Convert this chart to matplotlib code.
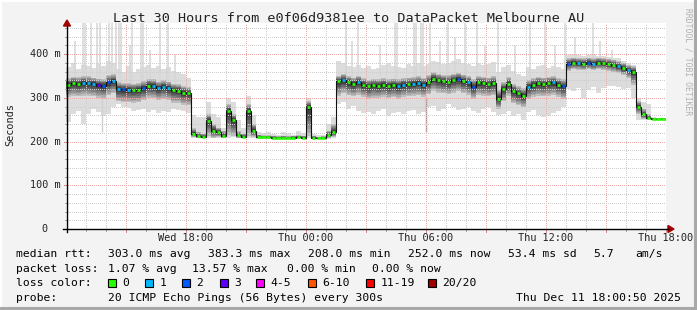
import matplotlib
matplotlib.use("Agg")
import matplotlib.pyplot as plt
import numpy as np
from matplotlib.patches import Rectangle, Polygon
from matplotlib.lines import Line2D

W, H, DPI = 697, 310, 100
MONO = "DejaVu Sans Mono"

# ---------------- data (15-minute bins, hours since Wed 12:00) ----------------
start_hour = 0.0139
step_hours = 0.25

median = [330, 333, 331, 334, 333, 332, 329, 327, 335, 338,
          320, 319, 318, 317, 318, 322, 328, 327, 322, 325,
          322, 317, 316, 312, 311, 218, 212, 211, 248, 225,
          222, 212, 270, 250, 214, 211, 270, 225, 210, 210,
          210, 209, 209, 209, 209, 209, 210, 209, 280, 209,
          208, 208, 214, 222, 338, 340, 335, 332, 336, 330,
          326, 329, 328, 330, 327, 329, 327, 330, 331, 332,
          334, 330, 336, 344, 340, 338, 336, 340, 343, 338,
          335, 325, 335, 333, 331, 334, 298, 320, 332, 315,
          310, 305, 325, 330, 333, 331, 333, 335, 330, 326,
          378, 380, 379, 378, 380, 378, 380, 379, 377, 375,
          372, 368, 363, 360, 280, 262, 254, 252, 252, 252]

smoke_hi = [345, 348, 347, 350, 349, 346, 344, 343, 352, 354,
            336, 334, 333, 332, 334, 338, 343, 342, 337, 340,
            337, 332, 331, 327, 324, 230, 222, 218, 262, 240,
            232, 225, 285, 262, 224, 218, 285, 240, 216, 214,
            214, 213, 212, 213, 212, 213, 214, 213, 292, 213,
            211, 212, 225, 240, 350, 355, 350, 346, 350, 345,
            341, 343, 342, 345, 342, 344, 342, 345, 346, 347,
            349, 346, 351, 358, 355, 352, 351, 355, 357, 353,
            350, 342, 349, 348, 346, 349, 318, 336, 347, 332,
            326, 322, 340, 345, 348, 346, 348, 349, 345, 342,
            390, 392, 391, 390, 392, 390, 392, 391, 389, 387,
            384, 380, 375, 372, 292, 275, 262, 254, 253, 253]

smoke_lo = [302, 305, 303, 305, 304, 303, 300, 298, 306, 310,
            292, 290, 290, 289, 290, 294, 300, 299, 294, 297,
            294, 289, 288, 284, 283, 210, 208, 208, 212, 209,
            210, 208, 215, 212, 208, 208, 212, 210, 207, 207,
            207, 207, 207, 206, 207, 206, 207, 207, 212, 206,
            206, 206, 208, 210, 305, 310, 306, 303, 307, 302,
            298, 300, 300, 302, 299, 301, 298, 302, 303, 304,
            306, 302, 308, 316, 312, 310, 308, 312, 315, 310,
            307, 298, 307, 305, 303, 306, 275, 292, 304, 288,
            283, 278, 297, 302, 305, 303, 305, 307, 302, 298,
            362, 365, 364, 363, 365, 363, 365, 364, 362, 360,
            357, 352, 346, 330, 262, 252, 250, 251, 251, 251]

rtt_min = [245, 262, 270, 240, 262, 275, 268, 258, 262, 280,
           285, 278, 276, 270, 272, 275, 268, 272, 265, 270,
           268, 275, 272, 270, 265, 207, 207, 207, 207, 207,
           207, 207, 208, 210, 207, 207, 207, 208, 206, 206,
           206, 206, 206, 206, 206, 206, 206, 206, 207, 206,
           205, 205, 206, 207, 285, 290, 275, 282, 270, 265,
           268, 262, 270, 275, 258, 265, 268, 262, 270, 272,
           262, 268, 280, 282, 270, 275, 285, 278, 272, 275,
           278, 270, 265, 275, 280, 268, 260, 262, 270, 258,
           262, 250, 268, 272, 260, 255, 258, 265, 270, 280,
           320, 315, 322, 300, 318, 325, 312, 322, 326, 328,
           325, 320, 322, 300, 250, 250, 250, 251, 251, 251]

rtt_max = [370, 380, 365, 375, 372, 368, 378, 372, 385, 380,
           365, 360, 372, 358, 365, 370, 375, 368, 372, 365,
           370, 362, 360, 355, 345, 260, 255, 255, 290, 262,
           255, 232, 300, 290, 250, 230, 305, 260, 222, 220,
           222, 218, 216, 222, 220, 215, 225, 220, 300, 218,
           215, 215, 240, 255, 385, 380, 372, 370, 375, 368,
           372, 365, 368, 375, 380, 372, 370, 368, 378, 372,
           380, 372, 378, 385, 382, 378, 380, 385, 388, 380,
           378, 372, 380, 375, 378, 382, 360, 370, 375, 362,
           355, 350, 370, 365, 372, 375, 368, 372, 370, 365,
           398, 400, 397, 395, 398, 400, 396, 395, 394, 392,
           390, 385, 380, 375, 300, 290, 285, 255, 253, 253]

loss = [0, 0, 0, 1, 1, 1, 3, 2, 2, 1,
        1, 2, 1, 0, 0, 2, 0, 1, 1, 1,
        1, 0, 0, 0, 0, 0, 0, 0, 0, 0,
        0, 0, 0, 0, 0, 0, 0, 0, 0, 0,
        0, 0, 0, 0, 0, 0, 0, 0, 0, 0,
        0, 0, 0, 0, 0, 1, 0, 0, 1, 0,
        0, 0, 0, 0, 0, 0, 1, 1, 0, 1,
        1, 1, 0, 0, 0, 0, 0, 0, 2, 0,
        1, 2, 0, 0, 0, 0, 0, 0, 0, 0,
        0, 0, 1, 0, 0, 0, 0, 1, 0, 2,
        2, 0, 1, 0, 2, 1, 0, 0, 0, 0,
        1, 0, 1, 0, 0, 0, 0, 0, 0, 0]

spike_hours = [0.85, 0.95, 1.25, 1.55, 1.70, 2.15, 2.30, 2.50, 2.65, 2.75,
               3.30, 3.75, 3.85, 4.70, 5.10, 14.00, 14.60, 16.45, 16.55, 17.40,
               17.50, 17.75, 17.85, 18.20, 19.10, 19.95, 20.55, 21.60, 23.20, 23.95,
               24.95, 26.35,
               0.45, 3.20, 4.20, 5.45, 14.30, 15.70, 18.70, 19.45, 20.95, 22.45,
               24.45, 25.45, 26.70, 27.30]
spike_tops = [480, 480, 480, 480, 480, 480, 480, 480, 480, 480,
              480, 480, 480, 480, 480, 480, 480, 480, 480, 480,
              480, 480, 480, 480, 480, 480, 480, 480, 480, 480,
              480, 480,
              430, 420, 410, 400, 430, 420, 430, 440, 420, 420,
              420, 440, 430, 410]

dip_hours = [1.80, 18.00]
dip_bottoms = [222, 222]

y_ticks = [0, 100, 200, 300, 400]
y_tick_labels = ["0", "100 m", "200 m", "300 m", "400 m"]
x_ticks = [6, 12, 18, 24, 30]
x_tick_labels = ["Wed 18:00", "Thu 00:00", "Thu 06:00", "Thu 12:00", "Thu 18:00"]

loss_labels = ["0", "1", "2", "3", "4-5", "6-10", "11-19", "20/20"]
loss_colors = ["#26ff00", "#00b8ff", "#0059ff", "#5e00ff",
               "#ff00ff", "#ff5500", "#ff0000", "#a10000"]

title = "Last 30 Hours from e0f06d9381ee to DataPacket Melbourne AU"
rtt_items = ["303.0 ms avg", "383.3 ms max", "208.0 ms min", "252.0 ms now",
             "53.4 ms sd", "5.7", "am/s"]
loss_items = ["1.07 % avg", "13.57 % max", "0.00 % min", "0.00 % now"]
probe_text = "20 ICMP Echo Pings (56 Bytes) every 300s"
stamp_text = "Thu Dec 11 18:00:50 2025"

# ---------------- figure ----------------
fig = plt.figure(figsize=(W / DPI, H / DPI), dpi=DPI)
fig.patch.set_facecolor("#F3F3F3")


def fx(x):
    return x / W


def fy(y):
    return 1 - y / H


# frame shading
fig.add_artist(Line2D([fx(0.5), fx(0.5)], [fy(0), fy(H)], color="#FFFFFF", lw=1.4))
fig.add_artist(Line2D([fx(0), fx(W)], [fy(0.5), fy(0.5)], color="#FFFFFF", lw=1.4))
fig.add_artist(Line2D([fx(W - 2), fx(W - 2)], [fy(1), fy(H)], color="#A8A8A8", lw=2.2))
fig.add_artist(Line2D([fx(1), fx(W)], [fy(H - 2), fy(H - 2)], color="#A8A8A8", lw=2.2))

PX0, PX1, PY0, PY1 = 66, 666, 229, 23
ax = fig.add_axes([fx(PX0), fy(PY0), (PX1 - PX0) / W, (PY0 - PY1) / H])
ymax = (PY0 - PY1) / 0.4375
ax.set_xlim(start_hour, start_hour + 30)
ax.set_ylim(0, ymax)
ax.set_facecolor("white")
for s in ax.spines.values():
    s.set_visible(False)
ax.set_xticks([])
ax.set_yticks([])

n = len(median)
edges = start_hour + step_hours * np.arange(n + 1)
med = np.array(median, float)


def stepfill(lo, hi, color, z):
    lo = list(lo) + [lo[-1]]
    hi = list(hi) + [hi[-1]]
    ax.fill_between(edges, lo, hi, step="post", color=color, lw=0, zorder=z)


# light smoke (min..max)
stepfill(rtt_min, rtt_max, "#DCDCDC", 1)

# spikes and dips
bin_idx = [min(n - 1, int((h - start_hour) / step_hours)) for h in spike_hours]
ax.vlines(spike_hours, [smoke_hi[i] for i in bin_idx], spike_tops,
          colors="#D6D6D6", lw=1.1, zorder=1)
dbin = [min(n - 1, int((h - start_hour) / step_hours)) for h in dip_hours]
ax.vlines(dip_hours, dip_bottoms, [smoke_lo[i] for i in dbin],
          colors=["#D0D0D0", "#9A9A9A"], lw=1.0, zorder=1)

# dark smoke gradient
lo = np.array(smoke_lo, float)
hi = np.array(smoke_hi, float)
K = 8
shades = np.linspace(0.74, 0.18, K)
for k in range(K):
    f = k / K
    stepfill(lo + (med - lo) * f, hi - (hi - med) * f, str(shades[k]), 1.5)

# grid (1px dots, 2px gaps)
dot = (0, (1, 2))
for h in range(1, 31):
    major = (h % 3 == 0)
    ax.axvline(h, color="#EAAAAA" if major else "#CDCDCD",
               lw=0.72, ls=dot, zorder=2, antialiased=False)
for v in range(20, int(ymax) + 1, 20):
    major = (v % 100 == 0)
    ax.axhline(v, color="#EAAAAA" if major else "#CDCDCD",
               lw=0.72, ls=dot, zorder=2, antialiased=False)

# median line and loss colouring
ax.stairs(med, edges, color="#111111", lw=0.8, baseline=None, zorder=3)


def loss_color(c):
    if c <= 3:
        return loss_colors[c]
    if c <= 5:
        return loss_colors[4]
    if c <= 10:
        return loss_colors[5]
    if c <= 19:
        return loss_colors[6]
    return loss_colors[7]


seg_x0, seg_x1 = [], []
for i in range(n):
    a, b = edges[i], edges[i + 1]
    if i > 0 and median[i] != median[i - 1]:
        a += 0.05
    if i < n - 1 and median[i] != median[i + 1]:
        b -= 0.05
    seg_x0.append(a)
    seg_x1.append(b)
ax.hlines(med, seg_x0, seg_x1, colors=[loss_color(c) for c in loss], lw=1.9, zorder=4)

# axes lines with arrows and ticks
for h in range(1, 31):
    xp = PX0 + (h - start_hour) * 20
    ln = 3 if h % 3 == 0 else 2
    fig.add_artist(Line2D([fx(xp), fx(xp)], [fy(229), fy(229 + ln)],
                          color="#E08A8A" if h % 3 == 0 else "#AAAAAA", lw=0.72))
for v in range(20, 461, 20):
    yp = PY0 - v * 0.4375
    ln = 3 if v % 100 == 0 else 2
    fig.add_artist(Line2D([fx(67 - ln), fx(67)], [fy(yp), fy(yp)],
                          color="#E08A8A" if v % 100 == 0 else "#AAAAAA", lw=0.72))
fig.add_artist(Line2D([fx(63), fx(668)], [fy(229), fy(229)], color="black", lw=1.0))
fig.add_artist(Line2D([fx(67), fx(67)], [fy(232), fy(26)], color="black", lw=1.0))
fig.add_artist(Polygon([(fx(668), fy(225.5)), (fx(668), fy(232.5)), (fx(674), fy(229))],
                       closed=True, color="#A10000"))
fig.add_artist(Polygon([(fx(63.5), fy(26)), (fx(70.5), fy(26)), (fx(67), fy(20))],
                       closed=True, color="#A10000"))

# tick labels
for v, lab in zip(y_ticks, y_tick_labels):
    ypix = PY0 - v * 0.4375
    xr = 47.5 if lab == "0" else 60.5
    fig.text(fx(xr), fy(ypix), lab, ha="right", va="center", family=MONO,
             fontsize=7.3, color="#222222")
for h, lab in zip(x_ticks, x_tick_labels):
    xpix = PX0 + (h - start_hour) * 20
    fig.text(fx(xpix), fy(238), lab, ha="center", va="center", family=MONO,
             fontsize=7.4, color="#222222")

fig.text(fx(10), fy(125), "Seconds", rotation=90, ha="center", va="center",
         family=MONO, fontsize=7.4, color="#222222")
fig.text(fx(349), fy(19), title, ha="center", va="center", family=MONO,
         fontsize=9.7, color="#222222")
fig.text(fx(688), fy(8), "RRDTOOL / TOBI OETIKER", rotation=-90, ha="center", va="top",
         family=MONO, fontsize=5.8, color="#B0B0B0")

# legend
LF = 8.2
fig.text(fx(16), fy(254), "median rtt:", ha="left", va="center", family=MONO, fontsize=LF)
for x, s in zip([107.6, 207.6, 307.6, 408, 507.6, 593, 635.6], rtt_items):
    fig.text(fx(x), fy(254), s, ha="left", va="center", family=MONO, fontsize=LF)
fig.text(fx(16), fy(268.5), "packet loss:", ha="left", va="center", family=MONO, fontsize=LF)
for x, s in zip([107.6, 192, 287, 372], loss_items):
    fig.text(fx(x), fy(268.5), s, ha="left", va="center", family=MONO, fontsize=LF)
fig.text(fx(16), fy(283), "loss color:", ha="left", va="center", family=MONO, fontsize=LF)
box_x = [108, 145, 182, 219.5, 256, 307.5, 366, 427.5]
for x, lab, col in zip(box_x, loss_labels, loss_colors):
    fig.add_artist(Rectangle((fx(x), fy(287)), 8 / W, 8 / H, facecolor=col,
                             edgecolor="black", lw=0.8))
    fig.text(fx(x + 14.5), fy(283), lab, ha="left", va="center", family=MONO, fontsize=LF)
fig.text(fx(16), fy(298), "probe:", ha="left", va="center", family=MONO, fontsize=LF)
fig.text(fx(107.6), fy(298), probe_text, ha="left", va="center", family=MONO, fontsize=LF)
fig.text(fx(681), fy(298), stamp_text, ha="right", va="center", family=MONO, fontsize=LF)

fig.savefig("out.png", dpi=DPI, facecolor=fig.get_facecolor())
